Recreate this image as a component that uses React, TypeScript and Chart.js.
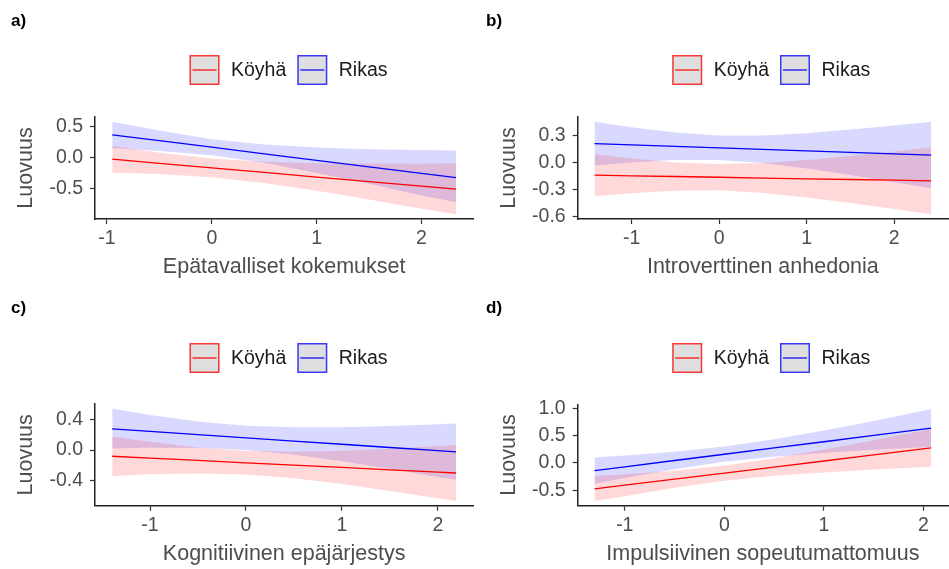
import React, { useEffect, useRef } from "react";
import { Chart, registerables } from "chart.js";

Chart.register(...registerables);

// ---------- data ----------
const seriesNames = ["Köyhä", "Rikas"];
const seriesColors = ["#FF0000", "#0000FF"];
const seriesFills = ["rgba(255,0,0,0.15)", "rgba(0,0,255,0.15)"];
const yAxisTitle = "Luovuus";

const xTicksAll = [-1, 0, 1, 2];

// a) Epätavalliset kokemukset
const xA = [-0.95, -0.5, 0, 0.5, 1, 1.5, 2, 2.33];
const poorLineA = [-0.022, -0.089, -0.163, -0.237, -0.311, -0.385, -0.459, -0.508];
const poorHighA = [0.196, 0.083, -0.012, -0.065, -0.087, -0.094, -0.095, -0.09];
const poorLowA = [-0.24, -0.261, -0.314, -0.409, -0.535, -0.676, -0.823, -0.915];
const richLineA = [0.372, 0.277, 0.171, 0.065, -0.04, -0.146, -0.252, -0.322];
const richHighA = [0.585, 0.44, 0.3, 0.215, 0.165, 0.14, 0.125, 0.12];
const richLowA = [0.16, 0.11, 0.04, -0.08, -0.245, -0.42, -0.61, -0.72];
const yTicksA = [-0.5, 0, 0.5];

// b) Introverttinen anhedonia
const xB = [-1.424, -1, -0.5, 0, 0.5, 1, 1.5, 2, 2.424];
const poorLineB = [-0.139, -0.146, -0.154, -0.162, -0.171, -0.179, -0.187, -0.195, -0.202];
const poorHighB = [0.095, 0.046, 0.002, -0.017, -0.006, 0.027, 0.072, 0.123, 0.168];
const poorLowB = [-0.373, -0.338, -0.31, -0.307, -0.336, -0.385, -0.446, -0.513, -0.572];
const richLineB = [0.21, 0.196, 0.179, 0.163, 0.146, 0.13, 0.113, 0.097, 0.083];
const richHighB = [0.452, 0.391, 0.331, 0.298, 0.298, 0.325, 0.364, 0.41, 0.451];
const richLowB = [-0.032, 0.001, 0.027, 0.028, -0.006, -0.065, -0.138, -0.216, -0.285];
const yTicksB = [-0.6, -0.3, 0, 0.3];

// c) Kognitiivinen epäjärjestys
const xC = [-1.394, -1, -0.5, 0, 0.5, 1, 1.5, 2, 2.19];
const poorLineC = [-0.081, -0.105, -0.136, -0.167, -0.197, -0.228, -0.259, -0.289, -0.301];
const poorHighC = [0.178, 0.109, 0.035, -0.012, -0.023, -0.009, 0.019, 0.054, 0.068];
const poorLowC = [-0.34, -0.319, -0.307, -0.322, -0.371, -0.447, -0.537, -0.632, -0.67];
const richLineC = [0.279, 0.246, 0.203, 0.161, 0.119, 0.077, 0.034, -0.008, -0.024];
const richHighC = [0.545, 0.46, 0.377, 0.321, 0.299, 0.301, 0.315, 0.34, 0.35];
const richLowC = [0.022, 0.032, 0.029, 0.001, -0.061, -0.147, -0.247, -0.353, -0.39];
const yTicksC = [-0.4, 0, 0.4];

// d) Impulsiivinen sopeutumattomuus
const xD = [-1.304, -1, -0.5, 0, 0.5, 1, 1.5, 2.077];
const poorLineD = [-0.477, -0.409, -0.298, -0.187, -0.076, 0.035, 0.147, 0.275];
const poorHighD = [-0.242, -0.209, -0.142, -0.047, 0.085, 0.244, 0.416, 0.62];
const poorLowD = [-0.7, -0.609, -0.454, -0.327, -0.237, -0.174, -0.122, -0.07];
const richLineD = [-0.141, -0.071, 0.044, 0.159, 0.274, 0.388, 0.503, 0.636];
const richHighD = [0.099, 0.134, 0.203, 0.299, 0.433, 0.593, 0.767, 0.99];
const richLowD = [-0.381, -0.276, -0.115, 0.019, 0.115, 0.183, 0.239, 0.29];
const yTicksD = [-0.5, 0, 0.5, 1.0];

// ---------- styling / layout ----------
const FONT = '"Liberation Sans", Arial, sans-serif';
const TEXT_GREY = "#4D4D4D";

type PanelSpec = {
  tag: string;
  xTitle: string;
  xs: number[];
  poorLine: number[];
  poorLow: number[];
  poorHigh: number[];
  richLine: number[];
  richLow: number[];
  richHigh: number[];
  yTicks: number[];
  left: number;
  top: number;
  w: number;
  h: number;
  areaLeft: number;
  areaTop: number;
  areaBottom: number;
  areaRight: number;
  legendMid: number;
};

const panels: PanelSpec[] = [
  {
    tag: "a)", xTitle: "Epätavalliset kokemukset", xs: xA,
    poorLine: poorLineA, poorLow: poorLowA, poorHigh: poorHighA,
    richLine: richLineA, richLow: richLowA, richHigh: richHighA, yTicks: yTicksA,
    left: 0, top: 0, w: 475, h: 285, areaLeft: 95, areaTop: 117, areaBottom: 219, areaRight: 473.3, legendMid: 70,
  },
  {
    tag: "b)", xTitle: "Introverttinen anhedonia", xs: xB,
    poorLine: poorLineB, poorLow: poorLowB, poorHigh: poorHighB,
    richLine: richLineB, richLow: richLowB, richHigh: richHighB, yTicks: yTicksB,
    left: 475, top: 0, w: 474, h: 285, areaLeft: 102.7, areaTop: 117, areaBottom: 219, areaRight: 473, legendMid: 70,
  },
  {
    tag: "c)", xTitle: "Kognitiivinen epäjärjestys", xs: xC,
    poorLine: poorLineC, poorLow: poorLowC, poorHigh: poorHighC,
    richLine: richLineC, richLow: richLowC, richHigh: richHighC, yTicks: yTicksC,
    left: 0, top: 287, w: 475, h: 282, areaLeft: 95, areaTop: 117, areaBottom: 218.7, areaRight: 473.3, legendMid: 71,
  },
  {
    tag: "d)", xTitle: "Impulsiivinen sopeutumattomuus", xs: xD,
    poorLine: poorLineD, poorLow: poorLowD, poorHigh: poorHighD,
    richLine: richLineD, richLow: richLowD, richHigh: richHighD, yTicks: yTicksD,
    left: 475, top: 287, w: 474, h: 282, areaLeft: 102.7, areaTop: 117.3, areaBottom: 218.7, areaRight: 473, legendMid: 71,
  },
];

const decorPlugin = {
  id: "decor",
  afterDraw(chart: any, _args: any, opts: any) {
    const ctx: CanvasRenderingContext2D = chart.ctx;
    ctx.save();
    // panel tag
    ctx.font = `bold 17px ${FONT}`;
    ctx.fillStyle = "#000";
    ctx.textAlign = "left";
    ctx.textBaseline = "alphabetic";
    ctx.fillText(opts.tag, 11, 26);
    // legend
    const key = 30;
    let x = chart.chartArea.left + 94.5;
    const mid = opts.legendMid;
    const y0 = mid - key / 2;
    ctx.font = `19.5px ${FONT}`;
    ctx.textBaseline = "middle";
    seriesNames.forEach((name, i) => {
      ctx.fillStyle = "#DFDFDF";
      ctx.fillRect(x, y0, key, key);
      ctx.strokeStyle = seriesColors[i];
      ctx.globalAlpha = 0.75;
      ctx.lineWidth = 1.5;
      ctx.strokeRect(x + 0.75, y0 + 0.75, key - 1.5, key - 1.5);
      ctx.globalAlpha = 1;
      ctx.lineWidth = 1.2;
      ctx.beginPath();
      ctx.moveTo(x + 3, mid);
      ctx.lineTo(x + key - 3, mid);
      ctx.stroke();
      ctx.fillStyle = "#1A1A1A";
      const tx = x + key + 11.5;
      ctx.fillText(name, tx, mid + 0.5);
      x = tx + ctx.measureText(name).width + 11;
    });
    ctx.restore();
  },
};

function makeConfig(p: PanelSpec): any {
  const pts = (ys: number[]) => p.xs.map((x, i) => ({ x, y: ys[i] }));
  const allY = [...p.poorLow, ...p.poorHigh, ...p.richLow, ...p.richHigh, ...p.poorLine, ...p.richLine];
  const yMin = Math.min(...allY);
  const yMax = Math.max(...allY);
  const yPad = (yMax - yMin) * 0.05;
  const xMin = p.xs[0];
  const xMax = p.xs[p.xs.length - 1];
  const xPad = (xMax - xMin) * 0.05;
  const hidden = { borderColor: "rgba(0,0,0,0)", borderWidth: 0, pointRadius: 0, tension: 0 };
  const line = (color: string) => ({ borderColor: color, borderWidth: 1.3, pointRadius: 0, fill: false, tension: 0 });
  const tickFont = { family: FONT, size: 19.5 };
  const titleFont = { family: FONT, size: 21.5 };
  const xTitlePad = p.h - 12.9 - (p.areaBottom + 48);
  const yTitlePad = 13 + (p.areaLeft - 95);
  return {
    type: "line",
    data: {
      datasets: [
        { label: seriesNames[0], data: pts(p.poorLine), ...line(seriesColors[0]) },
        { label: seriesNames[1], data: pts(p.richLine), ...line(seriesColors[1]) },
        { label: "poorLow", data: pts(p.poorLow), ...hidden, fill: false },
        { label: "poorHigh", data: pts(p.poorHigh), ...hidden, fill: "-1", backgroundColor: seriesFills[0] },
        { label: "richLow", data: pts(p.richLow), ...hidden, fill: false },
        { label: "richHigh", data: pts(p.richHigh), ...hidden, fill: "-1", backgroundColor: seriesFills[1] },
      ],
    },
    options: {
      animation: false,
      responsive: false,
      maintainAspectRatio: false,
      events: [],
      layout: { padding: { left: 0, right: p.w - p.areaRight, top: p.areaTop, bottom: 0 } },
      plugins: {
        legend: { display: false },
        tooltip: { enabled: false },
        title: { display: false },
        decor: { tag: p.tag, legendMid: p.legendMid },
      },
      scales: {
        x: {
          type: "linear",
          bounds: "data",
          min: xMin - xPad,
          max: xMax + xPad,
          afterBuildTicks: (s: any) => {
            s.ticks = xTicksAll.map((v) => ({ value: v }));
          },
          afterFit: (s: any) => {
            s.height = p.h - p.areaBottom;
          },
          grid: { drawOnChartArea: false, drawTicks: true, tickLength: 5, tickColor: "#333", tickWidth: 1.2 },
          border: { display: true, color: "#222", width: 1.5 },
          ticks: {
            color: TEXT_GREY,
            font: tickFont,
            padding: 3,
            maxRotation: 0,
            autoSkip: false,
            callback: (v: any) => String(Math.round(Number(v))),
          },
          title: {
            display: true,
            text: p.xTitle,
            color: TEXT_GREY,
            font: titleFont,
            padding: { top: 0, bottom: xTitlePad },
          },
        },
        y: {
          type: "linear",
          bounds: "data",
          min: yMin - yPad,
          max: yMax + yPad,
          afterBuildTicks: (s: any) => {
            s.ticks = p.yTicks.map((v) => ({ value: v }));
          },
          afterFit: (s: any) => {
            s.width = p.areaLeft;
          },
          grid: { drawOnChartArea: false, drawTicks: true, tickLength: 5, tickColor: "#333", tickWidth: 1.2 },
          border: { display: true, color: "#222", width: 1.5 },
          ticks: {
            color: TEXT_GREY,
            font: tickFont,
            padding: 7,
            autoSkip: false,
            callback: (v: any) => Number(v).toFixed(1),
          },
          title: {
            display: true,
            text: yAxisTitle,
            color: TEXT_GREY,
            font: titleFont,
            padding: { top: yTitlePad, bottom: 0 },
          },
        },
      },
    },
    plugins: [decorPlugin],
  };
}

function Panel({ spec }: { spec: PanelSpec }) {
  const ref = useRef<HTMLCanvasElement>(null);
  useEffect(() => {
    if (!ref.current) return;
    const chart = new Chart(ref.current, makeConfig(spec));
    return () => chart.destroy();
  }, [spec]);
  return (
    <canvas
      ref={ref}
      width={spec.w}
      height={spec.h}
      style={{ position: "absolute", left: spec.left, top: spec.top, width: spec.w, height: spec.h }}
    />
  );
}

export default function App() {
  return (
    <div style={{ position: "absolute", left: 0, top: 0, width: 949, height: 569, background: "#fff" }}>
      {panels.map((p) => (
        <Panel key={p.tag} spec={p} />
      ))}
    </div>
  );
}
